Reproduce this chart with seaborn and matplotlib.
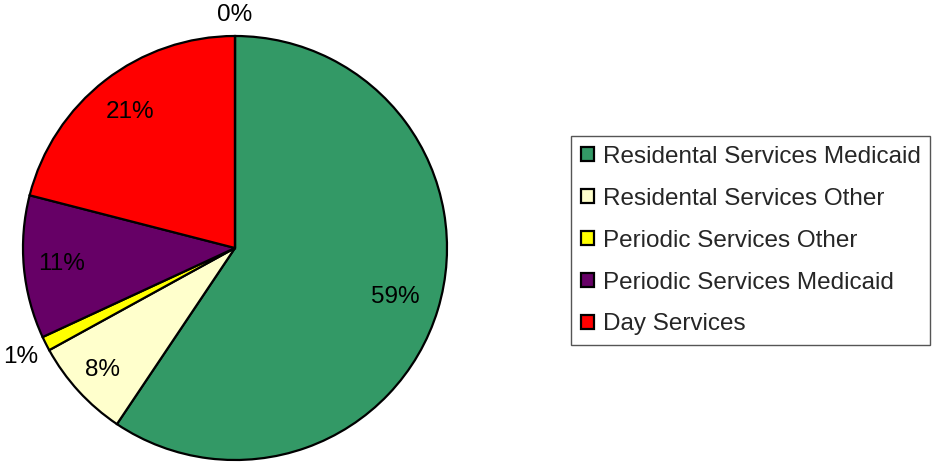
import numpy as np
import matplotlib
matplotlib.use("Agg")
import matplotlib.pyplot as plt
import seaborn as sns

categories = ["Residental Services Medicaid", "Residental Services Other",
              "Periodic Services Other", "Periodic Services Medicaid",
              "Day Services", ""]
values = [59.4, 7.6, 1.1, 10.9, 21.0, 0.0]
pct_labels = ["59%", "8%", "1%", "11%", "21%", "0%"]
colors = ["#339966", "#FFFFCC", "#FFFF00", "#660066", "#FF0000", "#9999FF"]

sns.set_theme(style="white")
plt.rcParams["font.family"] = ["Liberation Sans", "DejaVu Sans"]

fig = plt.figure(figsize=(9.33, 4.63), dpi=100)
fig.patch.set_facecolor("white")
ax = fig.add_axes([23 / 933, 3 / 463, 424 / 933, 424 / 463])
wedges, _ = ax.pie(values, colors=colors, startangle=90, counterclock=False,
                   radius=1.0,
                   wedgeprops=dict(edgecolor="black", linewidth=1.6))
ax.set_xlim(-1, 1)
ax.set_ylim(-1, 1)
ax.set_aspect("equal")
ax.axis("off")

label_r = [0.79, 0.85, 1.135, 0.82, 0.81, 1.10]
for w, lab, r in zip(wedges, pct_labels, label_r):
    mid = np.deg2rad((w.theta1 + w.theta2) / 2)
    ax.text(r * np.cos(mid), r * np.sin(mid), lab, ha="center", va="center",
            fontsize=17.5, color="black", clip_on=False)

handles = [w for w, c in zip(wedges, categories) if c]
names = [c for c in categories if c]
leg = fig.legend(handles, names, loc="upper left",
                 bbox_to_anchor=(571 / 933, 1 - 136 / 463),
                 fontsize=17.5, frameon=True, fancybox=False,
                 edgecolor="#555555", framealpha=1,
                 handlelength=0.55, handleheight=0.55, handletextpad=0.35,
                 labelspacing=0.82, borderpad=0.4, borderaxespad=0)
leg.get_frame().set_linewidth(1.0)
for h in leg.legend_handles:
    h.set_linewidth(1.6)

fig.savefig("out.png", dpi=100, facecolor="white")
